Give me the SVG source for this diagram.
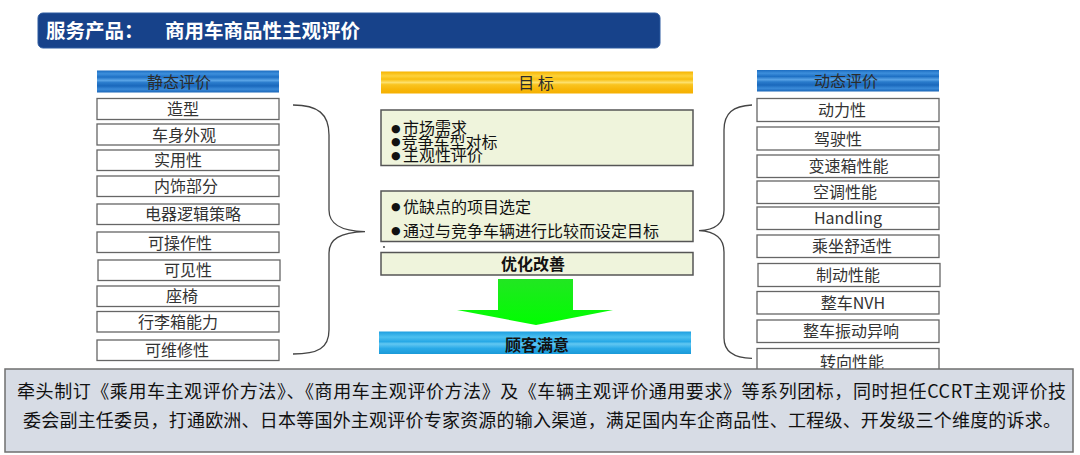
<svg xmlns="http://www.w3.org/2000/svg" width="1080" height="455" viewBox="0 0 1080 455">
<defs>
<linearGradient id="gBlue" x1="0" y1="0" x2="0" y2="1">
<stop offset="0" stop-color="#1b6cc0"/><stop offset="0.15" stop-color="#3d8fdc"/><stop offset="0.3" stop-color="#1e70c4"/><stop offset="0.45" stop-color="#5aa4e6"/><stop offset="0.55" stop-color="#2a7ccc"/><stop offset="0.7" stop-color="#1a68bc"/><stop offset="0.85" stop-color="#3a8ad8"/><stop offset="1" stop-color="#1a66b8"/>
</linearGradient>
<linearGradient id="gYellow" x1="0" y1="0" x2="0" y2="1">
<stop offset="0" stop-color="#f6b400"/><stop offset="0.2" stop-color="#fdd23c"/><stop offset="0.35" stop-color="#f8be10"/><stop offset="0.5" stop-color="#fde06a"/><stop offset="0.6" stop-color="#f9c420"/><stop offset="0.8" stop-color="#f7b70a"/><stop offset="1" stop-color="#f5b000"/>
</linearGradient>
<linearGradient id="gSky" x1="0" y1="0" x2="0" y2="1">
<stop offset="0" stop-color="#1e9fe0"/><stop offset="0.25" stop-color="#4cc0f0"/><stop offset="0.45" stop-color="#27a8e6"/><stop offset="0.55" stop-color="#62c8f2"/><stop offset="0.75" stop-color="#2aaae8"/><stop offset="1" stop-color="#1a9ad8"/>
</linearGradient>
<linearGradient id="gGreen" x1="0" y1="0" x2="0" y2="1">
<stop offset="0" stop-color="#22e622"/><stop offset="1" stop-color="#00ff00"/>
</linearGradient>
<style>
text{font-family:"Noto Sans CJK SC","Noto Sans",sans-serif;}
.item{fill:#fff;stroke:#666;stroke-width:1.3;}
.it{font-size:16px;fill:#333;text-anchor:middle;}
.hd{font-size:16px;fill:#2b2b2b;text-anchor:middle;}
.gbox{fill:#eff4dc;stroke:#555;stroke-width:1.5;}
.gt{font-size:16px;fill:#111;}
.bul{font-size:11px;font-family:"DejaVu Sans",sans-serif;fill:#111;}
.bt{font-size:16px;font-weight:bold;fill:#111;text-anchor:middle;}
.brace{fill:none;stroke:#444;stroke-width:1.3;}
.foot{font-size:18px;fill:#111;}
</style>
</defs>
<rect width="1080" height="455" fill="#fff"/>

<g id="title">
<rect x="38" y="13" width="622" height="35" rx="5" fill="#17428a" stroke="#2d5aa0" stroke-width="1"/>
<text x="46" y="37.5" font-size="19.5" font-weight="bold" fill="#fff">服务产品：</text>
<text x="165" y="37.5" font-size="19.5" font-weight="bold" fill="#fff">商用车商品性主观评价</text>
</g>

<g id="static-header">
<rect x="97" y="70.5" width="182" height="22" fill="url(#gBlue)"/>
<text class="hd" x="179" y="88">静态评价</text>
</g>
<g id="s1"><rect class="item" x="97" y="98.5" width="182" height="21"/><text class="it" x="183" y="115">造型</text></g>
<g id="s2"><rect class="item" x="97" y="124" width="182" height="21"/><text class="it" x="184" y="140.5">车身外观</text></g>
<g id="s3"><rect class="item" x="97" y="150" width="182" height="20.5"/><text class="it" x="178" y="166">实用性</text></g>
<g id="s4"><rect class="item" x="97" y="176" width="182" height="20.5"/><text class="it" x="186" y="192">内饰部分</text></g>
<g id="s5"><rect class="item" x="97" y="204" width="182" height="20.5"/><text class="it" x="193" y="220">电器逻辑策略</text></g>
<g id="s6"><rect class="item" x="97" y="232" width="182" height="20.5"/><text class="it" x="180" y="248.5">可操作性</text></g>
<g id="s7"><rect class="item" x="98" y="260" width="182" height="20.5"/><text class="it" x="188" y="276">可见性</text></g>
<g id="s8"><rect class="item" x="97" y="286" width="182" height="20.5"/><text class="it" x="182" y="302">座椅</text></g>
<g id="s9"><rect class="item" x="97" y="311.5" width="182" height="20.5"/><text class="it" x="178" y="328">行李箱能力</text></g>
<g id="s10"><rect class="item" x="97" y="340" width="182" height="20.5"/><text class="it" x="177" y="356">可维修性</text></g>

<g id="goal-header">
<rect x="381" y="71.5" width="312" height="22" fill="url(#gYellow)"/>
<text class="hd" x="536" y="88.5" fill="#222">目 标</text>
</g>
<g id="goal1">
<rect class="gbox" x="381" y="110" width="312" height="55.5"/>
<text class="gt" x="391" y="134"><tspan class="bul" dy="-2.5">●</tspan><tspan x="403" dy="2.5">市场需求</tspan></text>
<text class="gt" x="391" y="147.5"><tspan class="bul" dy="-2.5">●</tspan><tspan x="401.5" dy="2.5">竞争车型对标</tspan></text>
<text class="gt" x="391" y="161"><tspan class="bul" dy="-2.5">●</tspan><tspan x="403" dy="2.5">主观性评价</tspan></text>
</g>
<g id="goal2">
<rect class="gbox" x="381" y="191" width="312" height="50.5"/>
<text class="gt" x="391" y="212.5"><tspan class="bul" dy="-2.5">●</tspan><tspan x="403" dy="2.5">优缺点的项目选定</tspan></text>
<text class="gt" x="391" y="236.5"><tspan class="bul" dy="-2.5">●</tspan><tspan x="403" dy="2.5">通过与竞争车辆进行比较而设定目标</tspan></text>
</g>
<circle cx="384" cy="247" r="0.9" fill="#333"/>
<g id="improve">
<rect class="gbox" x="381" y="252.5" width="312" height="22.5"/>
<text class="bt" x="533" y="270">优化改善</text>
</g>
<g id="satisfy">
<rect x="379" y="331.5" width="312" height="22.5" fill="url(#gSky)"/>
<text class="bt" x="537" y="351" fill="#1a1a1a">顾客满意</text>
</g>

<g id="dynamic-header">
<rect x="757" y="70" width="182" height="21.5" fill="url(#gBlue)"/>
<text class="hd" x="846" y="87">动态评价</text>
</g>
<g id="d1"><rect class="item" x="757" y="98.5" width="182" height="23"/><text class="it" x="842" y="116">动力性</text></g>
<g id="d2"><rect class="item" x="757" y="127" width="182" height="23"/><text class="it" x="838" y="144.5">驾驶性</text></g>
<g id="d3"><rect class="item" x="757" y="155" width="182" height="22.5"/><text class="it" x="848.5" y="172">变速箱性能</text></g>
<g id="d4"><rect class="item" x="757" y="181" width="182" height="22.5"/><text class="it" x="845" y="198">空调性能</text></g>
<g id="d5"><rect class="item" x="757" y="207" width="182" height="22.5"/><text class="it" x="848" y="224">Handling</text></g>
<g id="d6"><rect class="item" x="757" y="235" width="182" height="22.5"/><text class="it" x="852" y="252">乘坐舒适性</text></g>
<g id="d7"><rect class="item" x="758" y="263.5" width="182" height="23"/><text class="it" x="848" y="281">制动性能</text></g>
<g id="d8"><rect class="item" x="757" y="291.5" width="182" height="22.5"/><text class="it" x="853" y="309">整车NVH</text></g>
<g id="d9"><rect class="item" x="757" y="320" width="182" height="22.5"/><text class="it" x="851" y="337">整车振动异响</text></g>
<g id="d10"><rect class="item" x="757" y="348.5" width="182" height="24"/><text class="it" x="852" y="368">转向性能</text></g>

<g id="connectors">
<path class="brace" d="M293,105 C318,105 329,114 329,135 L329,210 C329,224 340,231 365,231.7 C340,232.5 329,239 329,253 L329,330 C329,348 318,354 293,354"/>
<path class="brace" d="M752,105 C733,106 724,113 724,130 L724,210 C724,224 715,230 699,230.7 C715,231.5 724,238 724,252 L724,338 C724,352 735,358 752,358.3"/>
<polygon points="498,279 573,279 573,310 613,310 536,325 457,310 498,310" fill="url(#gGreen)"/>
</g>

<g id="footer">
<rect x="5" y="369" width="1068" height="83" fill="#d7dce5" stroke="#6f6f6f" stroke-width="1.5"/>
<text class="foot" x="17" y="398" textLength="1049" lengthAdjust="spacing">牵头制订《乘用车主观评价方法》、《商用车主观评价方法》及《车辆主观评价通用要求》等系列团标，同时担任CCRT主观评价技</text>
<text class="foot" x="23" y="426.5" textLength="1038" lengthAdjust="spacing">委会副主任委员，打通欧洲、日本等国外主观评价专家资源的输入渠道，满足国内车企商品性、工程级、开发级三个维度的诉求。</text>
</g>
</svg>
